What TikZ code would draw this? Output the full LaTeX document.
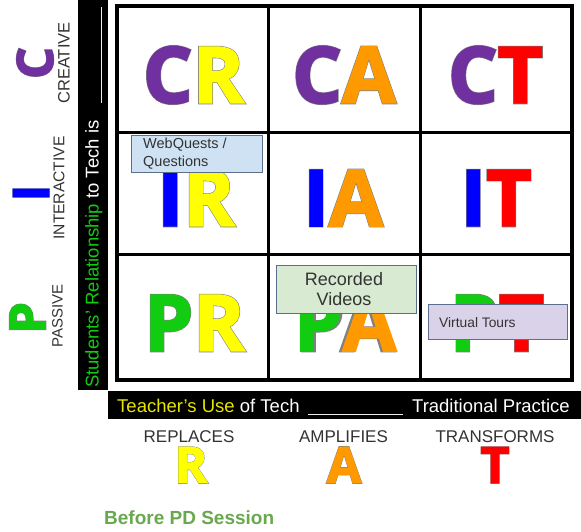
\documentclass[tikz,border=0pt]{standalone}
\usepackage{fontspec}
\setmainfont{Liberation Sans}
\newfontfamily\heavy{Open Sans}[BoldFeatures={FakeBold=2.2}]
\newfontfamily\heavyol{Open Sans}[BoldFeatures={FakeBold=3.6}]
\definecolor{cpurple}{HTML}{7030A0}
\definecolor{cyellow}{HTML}{FFFF00}
\definecolor{corange}{HTML}{FF9900}
\definecolor{cred}{HTML}{FF0000}
\definecolor{cblue}{HTML}{0000FF}
\definecolor{cgreen}{HTML}{11CC11}
\definecolor{dgreen}{HTML}{6AA84F}
\definecolor{tyellow}{HTML}{E6E600}
\definecolor{lbl}{HTML}{333333}
\definecolor{bluefill}{HTML}{CFE2F3}
\definecolor{greenfill}{HTML}{D9EAD3}
\definecolor{lavfill}{HTML}{D9D2E9}
\definecolor{boxline}{HTML}{5B6E8C}
\newcommand\lettercell[7]{%
  \node[bigol] (#1o) at (#2,#3) {#5#7};
  \node[big] (#1) at (#2,#3) {\textcolor{#4}{#5}\textcolor{#6}{#7}};}
\newcommand\oneletter[6]{% name, x, y, rot, colour, letter
  \node[smallol, rotate=#4] (#1o) at (#2,#3) {#6};
  \node[small, rotate=#4, text=#5] (#1) at (#2,#3) {#6};}
\begin{document}
\begin{tikzpicture}[x=1pt,y=-1pt,
  big/.style={inner sep=0pt, font=\heavy\bfseries\fontsize{78}{78}\selectfont},
  bigol/.style={inner sep=0pt, font=\heavyol\bfseries\fontsize{78}{78}\selectfont, text=black!50},
  small/.style={inner sep=0pt, font=\heavy\bfseries\fontsize{50}{50}\selectfont},
  smallol/.style={inner sep=0pt, font=\heavyol\bfseries\fontsize{50}{50}\selectfont, text=black!50},
  lab/.style={inner sep=0pt, text=lbl},
  bartext/.style={inner sep=0pt, text=white, font=\fontsize{18.5}{18.5}\selectfont},
  tbox/.style={draw=boxline, line width=1.1pt, inner sep=0pt},
  boxtext/.style={inner sep=0pt, text=lbl},
  gridthin/.style={line width=3pt},
  gridthick/.style={line width=4pt},
  blank/.style={draw=white!85!gray, line width=1.2pt}]
\fill[white] (0,0) rectangle (581,531);
\useasboundingbox (0,0) rectangle (581,531);
% black bars
\fill[black] (78,0) rectangle (108,390);
\fill[black] (108,391) rectangle (581,419);
\node[bartext, rotate=90, anchor=base west] (ylab) at (98.5,388) {\textcolor{cgreen}{Students’ Relationship} to Tech is};
\coordinate (yb1) at (101.5,103);
\coordinate (yb2) at (101.5,7);
\draw[blank] (yb1) -- (yb2);
\node[bartext, anchor=base west] (xlab) at (117,412) {\textcolor{tyellow}{Teacher’s Use} of Tech};
\node[bartext, anchor=base east] (xlab2) at (570,412) {Traditional Practice};
\coordinate (xb1) at (308,414.5);
\coordinate (xb2) at (403,414.5);
\draw[blank] (xb1) -- (xb2);
% grid
\draw[gridthin] (268,6) -- (268,379.5);
\draw[gridthin] (420,6) -- (420,379.5);
\draw[gridthin] (116.5,132) -- (572,132);
\draw[gridthin] (116.5,254) -- (572,254);
\draw[gridthick] (116.5,6) rectangle (572,379.5);
% cell letters
\lettercell{cr}{193.5}{75}{cpurple}{C}{cyellow}{R}
\lettercell{ca}{344}{75}{cpurple}{C}{corange}{A}
\lettercell{ct}{495.5}{75}{cpurple}{C}{cred}{T}
\lettercell{ir}{196}{198}{cblue}{I}{cyellow}{R}
\lettercell{ia}{343}{198}{cblue}{I}{corange}{A}
\lettercell{it}{496}{198}{cblue}{I}{cred}{T}
\lettercell{pr}{194.5}{323}{cgreen}{P}{cyellow}{R}
\lettercell{pa}{345}{323}{cgreen}{P}{corange}{A}
\lettercell{pt}{497}{323}{cgreen}{P}{cred}{T}
% left axis
\oneletter{lp}{27.5}{318}{90}{cgreen}{P}
\oneletter{li}{31}{193}{90}{cblue}{I}
\oneletter{lc}{35}{63}{90}{cpurple}{C}
\node[lab, rotate=90, font=\fontsize{15}{15}\selectfont] (passive) at (57.5,316) {PASSIVE};
\node[lab, rotate=90, font=\fontsize{15.6}{15.6}\selectfont] (interactive) at (59,188) {INTERACTIVE};
\node[lab, rotate=90, font=\fontsize{16.5}{16.5}\selectfont] (creative) at (64,63) {CREATIVE};
% bottom axis
\node[lab, font=\fontsize{17}{17}\selectfont] (replaces) at (189,437) {REPLACES};
\node[lab, font=\fontsize{17}{17}\selectfont] (amplifies) at (343.5,437) {AMPLIFIES};
\node[lab, font=\fontsize{17}{17}\selectfont] (transforms) at (495,437) {TRANSFORMS};
\oneletter{br}{191}{465}{0}{cyellow}{R}
\oneletter{ba}{344}{465}{0}{corange}{A}
\oneletter{bt}{495}{465}{0}{cred}{T}
\node[inner sep=0pt, anchor=base west, text=dgreen, font=\bfseries\fontsize{19}{19}\selectfont] (title) at (104,524) {Before PD Session};
% text boxes
\node[tbox, fill=bluefill, minimum width=131pt, minimum height=37pt, anchor=north west] (wq) at (131,135) {};
\node[boxtext, anchor=base west, font=\fontsize{14.5}{14.5}\selectfont] (wq1) at (143,148) {WebQuests /};
\node[boxtext, anchor=base west, font=\fontsize{14.5}{14.5}\selectfont] (wq2) at (143,166) {Questions};
\node[tbox, fill=greenfill, minimum width=140pt, minimum height=48pt, anchor=north west] (rv) at (276,265) {};
\node[boxtext, anchor=base, font=\fontsize{18}{18}\selectfont] (rv1) at (344,285) {Recorded};
\node[boxtext, anchor=base, font=\fontsize{18}{18}\selectfont] (rv2) at (344,305) {Videos};
\node[tbox, fill=lavfill, minimum width=139pt, minimum height=35pt, anchor=north west] (vt) at (428,304) {};
\node[boxtext, anchor=base west, font=\fontsize{13.8}{13.8}\selectfont] (vt1) at (439,327) {Virtual Tours};
\end{tikzpicture}
\end{document}
